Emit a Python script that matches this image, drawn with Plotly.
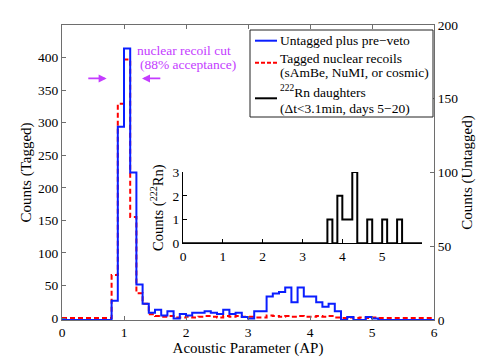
import numpy as np
import plotly.graph_objects as go

# ---------------- data ----------------
# main histogram: 60 bins of width 0.1 on AP in [0, 6]
ap_edges = np.round(np.arange(0, 61) * 0.1, 2)

untagged_counts = [0, 0, 0, 0, 0, 0, 0, 0, 13, 131,
                   184, 100, 24, 11, 5, 7, 3, 6, 1, 4,
                   3, 5, 5, 6, 5, 4, 7, 4, 5, 2,
                   1, 6, 6, 16, 18, 19, 22, 12, 22, 16,
                   16, 12, 9, 11, 6, 0, 2, 0, 0, 2,
                   1, 0, 0, 0, 0, 0, 0, 0, 0, 0]

tagged_counts = [0, 0, 0, 0, 0, 0, 0, 0, 66, 329,
                 397, 155, 38, 22, 6, 3, 2, 3, 1, 1,
                 2, 1, 2, 3, 2, 1, 3, 2, 3, 2,
                 2, 1, 1, 4, 3, 2, 3, 2, 3, 2,
                 2, 3, 2, 3, 1, 0, 1, 0, 1, 0,
                 1, 0, 0, 0, 0, 0, 0, 0, 0, 0]

# inset: 48 bins of width 0.125 on AP in [0, 6]
rn_edges = np.round(np.arange(0, 49) * 0.125, 3)
rn_counts = [0] * 29 + [1, 0, 2, 1, 1, 3, 0, 0, 1, 0, 0, 1, 0, 0, 1, 0, 0, 0, 0]

main_xticks = [0, 1, 2, 3, 4, 5, 6]
tagged_yticks = [0, 50, 100, 150, 200, 250, 300, 350, 400]
untagged_yticks = [0, 50, 100, 150, 200]
inset_xticks = [0, 1, 2, 3, 4, 5]
inset_yticks = [0, 1, 2, 3]

cut_low, cut_high = 0.72, 1.29   # arrow heads of the nuclear recoil cut

# ---------------- styling ----------------
FONT = '"Liberation Serif", "Times New Roman", Times, serif'
AXC = "#6e6e6e"
BLUE = "#0a1eff"
RED = "#ff0000"
MAG = "#c43cff"

W, H = 479, 360
ML, MR, MT, MB = 62, 45, 25, 40
PW, PH = W - ML - MR, H - MT - MB


def px2paper(px, py):
    return (px - ML) / PW, (H - MB - py) / PH


def stairs(edges, counts):
    return list(edges), list(counts) + [counts[-1]]


fig = go.Figure()

sx, sy = stairs(ap_edges, untagged_counts)
fig.add_trace(go.Scatter(x=sx, y=sy, mode="lines", line_shape="hv",
                         line=dict(color=BLUE, width=2),
                         name="Untagged plus pre-veto", xaxis="x", yaxis="y2"))
sx, sy = stairs(ap_edges, tagged_counts)
fig.add_trace(go.Scatter(x=sx, y=sy, mode="lines", line_shape="hv",
                         line=dict(color=RED, width=2, dash="5px,3px"),
                         name="Tagged nuclear recoils", xaxis="x", yaxis="y"))
sx, sy = stairs(rn_edges, rn_counts)
fig.add_trace(go.Scatter(x=sx, y=sy, mode="lines", line_shape="hv",
                         line=dict(color="black", width=2),
                         name="222Rn daughters", xaxis="x2", yaxis="y3"))

common = dict(showgrid=False, zeroline=False, ticks="inside", ticklen=4,
              showline=True, linewidth=1, automargin=False,
              tickfont=dict(family=FONT, size=13.5, color="black"))

fig.update_layout(
    width=W, height=H,
    margin=dict(l=ML, r=MR, t=MT, b=MB, autoexpand=False),
    paper_bgcolor="white", plot_bgcolor="white",
    showlegend=False,
    font=dict(family=FONT, size=13.5, color="black"),
    xaxis=dict(domain=[0, 1], range=[0, 6], tickvals=main_xticks, anchor="y",
               mirror="ticks", linecolor=AXC, tickcolor=AXC,
               title=dict(text="Acoustic Parameter (AP)",
                          font=dict(family=FONT, size=15), standoff=0),
               **common),
    yaxis=dict(range=[-3, 450], tickvals=tagged_yticks, anchor="x",
               linecolor=AXC, tickcolor=AXC,
               title=dict(text="Counts (Tagged)",
                          font=dict(family=FONT, size=15), standoff=2),
               **common),
    yaxis2=dict(range=[0, 200], tickvals=untagged_yticks, overlaying="y",
                side="right", anchor="x", linecolor=AXC, tickcolor=AXC,
                title=dict(text="Counts (Untagged)",
                           font=dict(family=FONT, size=15), standoff=4),
                **common),
    xaxis2=dict(domain=[(183 - ML) / PW, (422 - ML) / PW], range=[0, 6],
                tickvals=inset_xticks, anchor="y3",
                linecolor="black", tickcolor="black", **common),
    yaxis3=dict(domain=[(H - MB - 243.3) / PH, (H - MB - 172) / PH],
                range=[0, 3], tickvals=inset_yticks, anchor="x2",
                linecolor="black", tickcolor="black",
                title=dict(text="Counts (<sup>222</sup>Rn)",
                           font=dict(family=FONT, size=14.5), standoff=5),
                **common),
)

# nuclear recoil cut arrows and label
ann = []
arrow_y = 368
ann.append(dict(x=cut_low, y=arrow_y, ax=0.40, ay=arrow_y, xref="x", yref="y",
                axref="x", ayref="y", text="", showarrow=True, arrowhead=2,
                arrowsize=1, arrowwidth=1.6, arrowcolor=MAG))
ann.append(dict(x=cut_high, y=arrow_y, ax=1.61, ay=arrow_y, xref="x", yref="y",
                axref="x", ayref="y", text="", showarrow=True, arrowhead=2,
                arrowsize=1, arrowwidth=1.6, arrowcolor=MAG))
ann.append(dict(x=1.96, y=411, xref="x", yref="y", text="nuclear recoil cut",
                showarrow=False, font=dict(family=FONT, size=13.5, color=MAG)))
ann.append(dict(x=2.03, y=389, xref="x", yref="y", text="(88% acceptance)",
                showarrow=False, font=dict(family=FONT, size=13.5, color=MAG)))

# legend (drawn as box + key lines + text)
shapes = []
x0, y0 = px2paper(250, 117)
x1, y1 = px2paper(433, 30)
shapes.append(dict(type="rect", xref="paper", yref="paper", x0=x0, y0=y0,
                   x1=x1, y1=y1, line=dict(color="#222222", width=1),
                   fillcolor="white", layer="above"))
keys = [(40.7, BLUE, "solid"), (62.7, RED, "4px,2px"), (98.3, "black", "solid")]
for ky, col, dash in keys:
    lx0, ly = px2paper(255, ky)
    lx1, _ = px2paper(277, ky)
    shapes.append(dict(type="line", xref="paper", yref="paper", x0=lx0, x1=lx1,
                       y0=ly, y1=ly, line=dict(color=col, width=2, dash=dash),
                       layer="above"))
texts = [(40.7, "Untagged plus pre\u2212veto"),
         (58.3, "Tagged nuclear recoils"),
         (72.3, "(sAmBe, NuMI, or cosmic)"),
         (91.0, "<sup>222</sup>Rn daughters"),
         (108.3, "(\u0394t<3.1min, days 5\u221220)")]
for ty, t in texts:
    tx, typ = px2paper(278, ty)
    ann.append(dict(x=tx, y=typ, xref="paper", yref="paper", text=t,
                    showarrow=False, xanchor="left", yanchor="middle",
                    font=dict(family=FONT, size=13.5, color="black")))

fig.update_layout(annotations=ann, shapes=shapes)
fig.write_html("out.html",
               config={"displayModeBar": False},
               post_script="document.body.style.margin='0';"
                           "document.body.style.overflow='hidden';")
